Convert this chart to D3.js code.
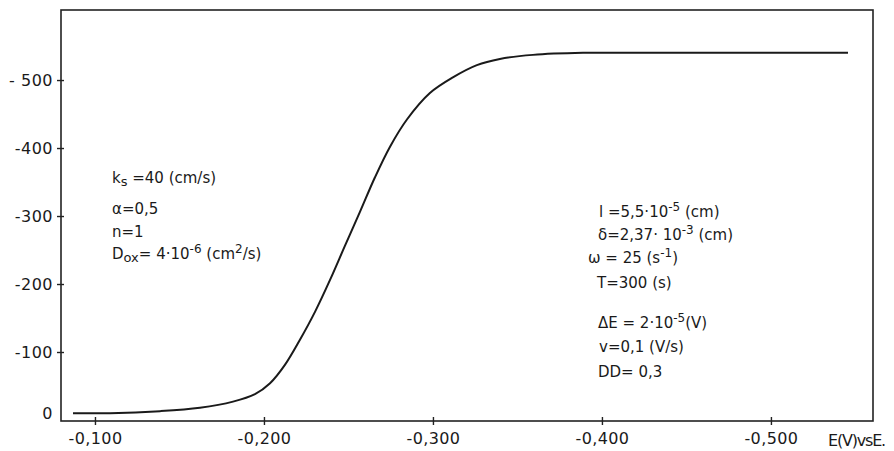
<!DOCTYPE html>
<html>
<head>
<meta charset="utf-8">
<script src="https://cdn.jsdelivr.net/npm/d3@7"></script>
<style>
  html, body { margin: 0; padding: 0; background: #fff; }
  svg { display: block; }
  text { font-family: "DejaVu Sans", sans-serif; fill: #1a1a1a; }
</style>
</head>
<body>
<svg id="chart" width="894" height="451"></svg>
<script>
// ---- data ----
const potential = [-0.0870, -0.1089, -0.1385, -0.1621, -0.1817, -0.1947, -0.2036, -0.2124, -0.2213, -0.2302, -0.2391, -0.2479, -0.2568, -0.2657, -0.2746, -0.2846, -0.2982, -0.3118, -0.3260, -0.3396, -0.3592, -0.3888, -0.4385, -0.5456];
const current   = [-10, -10, -13, -18, -27, -38, -54, -81, -118, -159, -206, -256, -306, -357, -402, -442, -481, -504, -522, -531, -537, -540, -540, -540];

const xTickValues = [-0.1, -0.2, -0.3, -0.4, -0.5];
const xTickLabels = ["-0,100", "-0,200", "-0,300", "-0,400", "-0,500"];
const yTickValues = [0, -100, -200, -300, -400, -500];
const yTickLabels = ["0", "-100", "-200", "-300", "-400", "- 500"];
const xAxisTitle = "E(V)vsE.";

const leftNotes = [
  [["k", ""], ["s", "sub"], [" =40 (cm/s)", ""]],
  [["\u03B1=0,5", ""]],
  [["n=1", ""]],
  [["D", ""], ["ox", "sub"], ["= 4\u00B710", ""], ["-6", "sup"], [" (cm", ""], ["2", "sup"], ["/s)", ""]]
];
const rightNotes = [
  [["l =5,5\u00B710", ""], ["-5", "sup"], [" (cm)", ""]],
  [["\u03B4=2,37\u00B7 10", ""], ["-3", "sup"], [" (cm)", ""]],
  [["\u03C9 = 25 (s", ""], ["-1", "sup"], [")", ""]],
  [["T=300 (s)", ""]],
  [["\u0394E = 2\u00B710", ""], ["-5", "sup"], ["(V)", ""]],
  [["v=0,1 (V/s)", ""]],
  [["DD= 0,3", ""]]
];

// ---- layout ----
const L = 61, R = 873, T = 10, B = 421;
const svg = d3.select("#chart");

const x = d3.scaleLinear().domain([-0.0799, -0.5604]).range([L, R]);
const y = d3.scaleLinear().domain([0, -603]).range([420, T]);

// frame
svg.append("rect")
  .attr("x", L).attr("y", T).attr("width", R - L).attr("height", B - T)
  .attr("fill", "none").attr("stroke", "#222").attr("stroke-width", 1.6);

// x axis (ticks crossing the axis line)
const xAxis = d3.axisBottom(x).tickValues(xTickValues)
  .tickFormat((d, i) => xTickLabels[i]).tickSize(8).tickPadding(8);
const gx = svg.append("g").attr("transform", `translate(0,${B - 4})`).call(xAxis);
gx.select(".domain").remove();
gx.selectAll(".tick line").attr("stroke", "#222").attr("stroke-width", 1.4);
gx.selectAll(".tick text").attr("font-size", 16).attr("font-family", "DejaVu Sans")
  .attr("fill", "#1a1a1a").attr("letter-spacing", 0.4);

svg.append("text").attr("x", 828).attr("y", 446).attr("font-size", 16)
  .attr("letter-spacing", -1.2).text(xAxisTitle);

// y axis
const yAxis = d3.axisLeft(y).tickValues(yTickValues)
  .tickFormat((d, i) => yTickLabels[i]).tickSize(7).tickPadding(4);
const gy = svg.append("g").attr("transform", `translate(${L + 3},0)`).call(yAxis);
gy.select(".domain").remove();
gy.selectAll(".tick line").attr("stroke", "#222").attr("stroke-width", 1.4);
gy.selectAll(".tick text").attr("font-size", 16).attr("font-family", "DejaVu Sans")
  .attr("fill", "#1a1a1a").attr("letter-spacing", 0.5);
// the "0" label sits slightly above the axis line
gy.selectAll(".tick").filter(d => d === 0).select("text").attr("dy", "-0.1em");
gy.selectAll(".tick").filter(d => d === 0).select("line").remove();

// curve
const line = d3.line().x((d, i) => x(potential[i])).y(d => y(d)).curve(d3.curveCatmullRom.alpha(0.5));
svg.append("path").datum(current).attr("d", line)
  .attr("fill", "none").attr("stroke", "#1a1a1a").attr("stroke-width", 2);

// annotations
function note(xPos, yPos, parts) {
  const t = svg.append("text").attr("x", xPos).attr("y", yPos).attr("font-size", 15);
  parts.forEach(([s, kind]) => {
    const sp = t.append("tspan").text(s);
    if (kind === "sub") sp.attr("font-size", 13).attr("baseline-shift", "-3");
    if (kind === "sup") sp.attr("font-size", 12).attr("baseline-shift", "6");
  });
}
const leftY = [183, 214, 237, 259];
leftNotes.forEach((p, i) => note(112, leftY[i], p));
const rightX = [599, 598, 588, 597, 598, 599, 598];
const rightY = [217, 240, 263, 288, 328, 352, 377];
rightNotes.forEach((p, i) => note(rightX[i], rightY[i], p));
</script>
</body>
</html>
